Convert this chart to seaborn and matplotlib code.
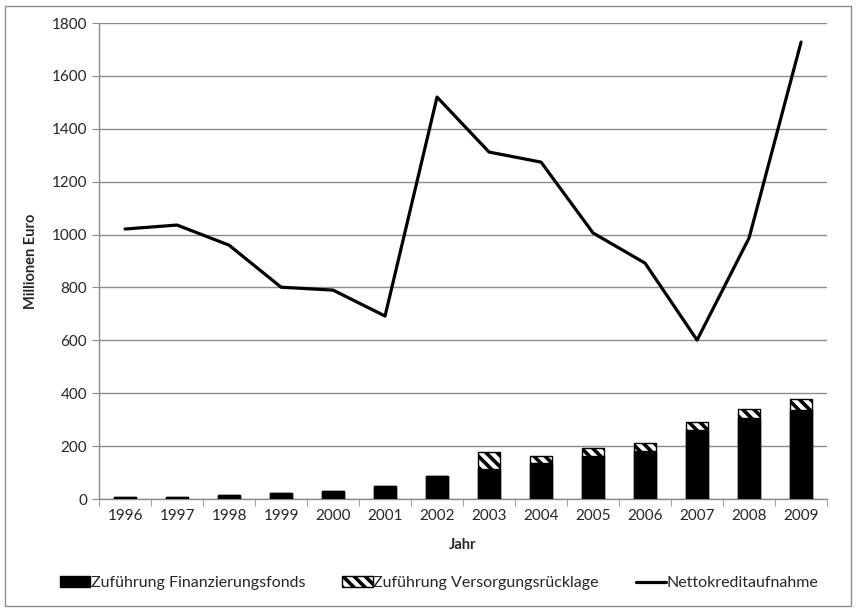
import numpy as np
import pandas as pd
import matplotlib
matplotlib.use("Agg")
import matplotlib.pyplot as plt
import seaborn as sns
from matplotlib.patches import Patch, Rectangle
from matplotlib.lines import Line2D

years = ['1996', '1997', '1998', '1999', '2000', '2001', '2002',
         '2003', '2004', '2005', '2006', '2007', '2008', '2009']
finanzierungsfonds = [9, 8, 17, 21, 29, 50, 87, 115, 136, 164, 183, 262, 307, 335]
versorgung = [0, 0, 0, 0, 0, 0, 0, 61, 28, 29, 30, 28, 32, 42]
netto = [1021, 1036, 960, 801, 790, 692, 1520, 1312, 1274, 1006, 892, 601, 987, 1728]

df = pd.DataFrame({'Jahr': years, 'Fonds': finanzierungsfonds,
                   'Versorgung': versorgung, 'Netto': netto})
df['Gesamt'] = df['Fonds'] + df['Versorgung']

sns.set_style('white')
plt.rcParams['font.family'] = ['Lato', 'DejaVu Sans']
plt.rcParams['hatch.linewidth'] = 2.6

fig = plt.figure(figsize=(8.56, 6.12), dpi=100)
ax = fig.add_axes([0.1157, 0.1846, 0.8505, 0.7778])

# stacked bars: total (hatched) below, fonds (black) on top of it
sns.barplot(data=df, x='Jahr', y='Gesamt', color='white', edgecolor='black',
            linewidth=1, hatch='\\\\\\', width=0.42, ax=ax, zorder=2)
sns.barplot(data=df, x='Jahr', y='Fonds', color='black', edgecolor='black',
            linewidth=1, width=0.42, ax=ax, zorder=3)
sns.pointplot(data=df, x='Jahr', y='Netto', color='black', markers='',
              linestyles='-', linewidth=2.3, ax=ax, zorder=4)

ax.set_ylim(0, 1800)
ax.set_xlim(-0.5, len(years) - 0.5)
ax.set_yticks(range(0, 1801, 200))
ax.yaxis.grid(True, color='#8c8c8c', linewidth=1)
ax.set_axisbelow(True)
for s in ['top', 'right']:
    ax.spines[s].set_visible(False)
for s in ['left', 'bottom']:
    ax.spines[s].set_color('#8c8c8c')
    ax.spines[s].set_linewidth(1)

ax.set_xticks(np.arange(len(years) + 1) - 0.5, minor=True)
ax.tick_params(axis='x', which='major', length=0, labelsize=11, pad=7)
ax.tick_params(axis='x', which='minor', length=5, color='#8c8c8c', bottom=True)
ax.tick_params(axis='y', length=5, color='#8c8c8c', labelsize=11, left=True)

ax.set_xlabel('Jahr', fontsize=10.5, fontweight='bold', labelpad=11)
ax.set_ylabel('Millionen Euro', fontsize=10.5, fontweight='bold', labelpad=10)

handles = [
    Patch(facecolor='black', edgecolor='black'),
    Patch(facecolor='white', edgecolor='black', hatch='\\\\\\'),
    Line2D([0], [0], color='black', linewidth=2.3),
]
labels = ['Zuführung Finanzierungsfonds', 'Zuführung Versorgungsrücklage',
          'Nettokreditaufnahme']
fig.legend(handles, labels, loc='center', bbox_to_anchor=(0.513, 0.047),
           ncol=3, frameon=False, fontsize=11.5, handlelength=1.9,
           handleheight=0.7, handletextpad=0.05, columnspacing=2.3)

fig.patches.append(Rectangle((0.006, 0.01), 0.988, 0.98, transform=fig.transFigure,
                             fill=False, edgecolor='#8c8c8c', linewidth=1))

fig.savefig('out.png', dpi=100)
